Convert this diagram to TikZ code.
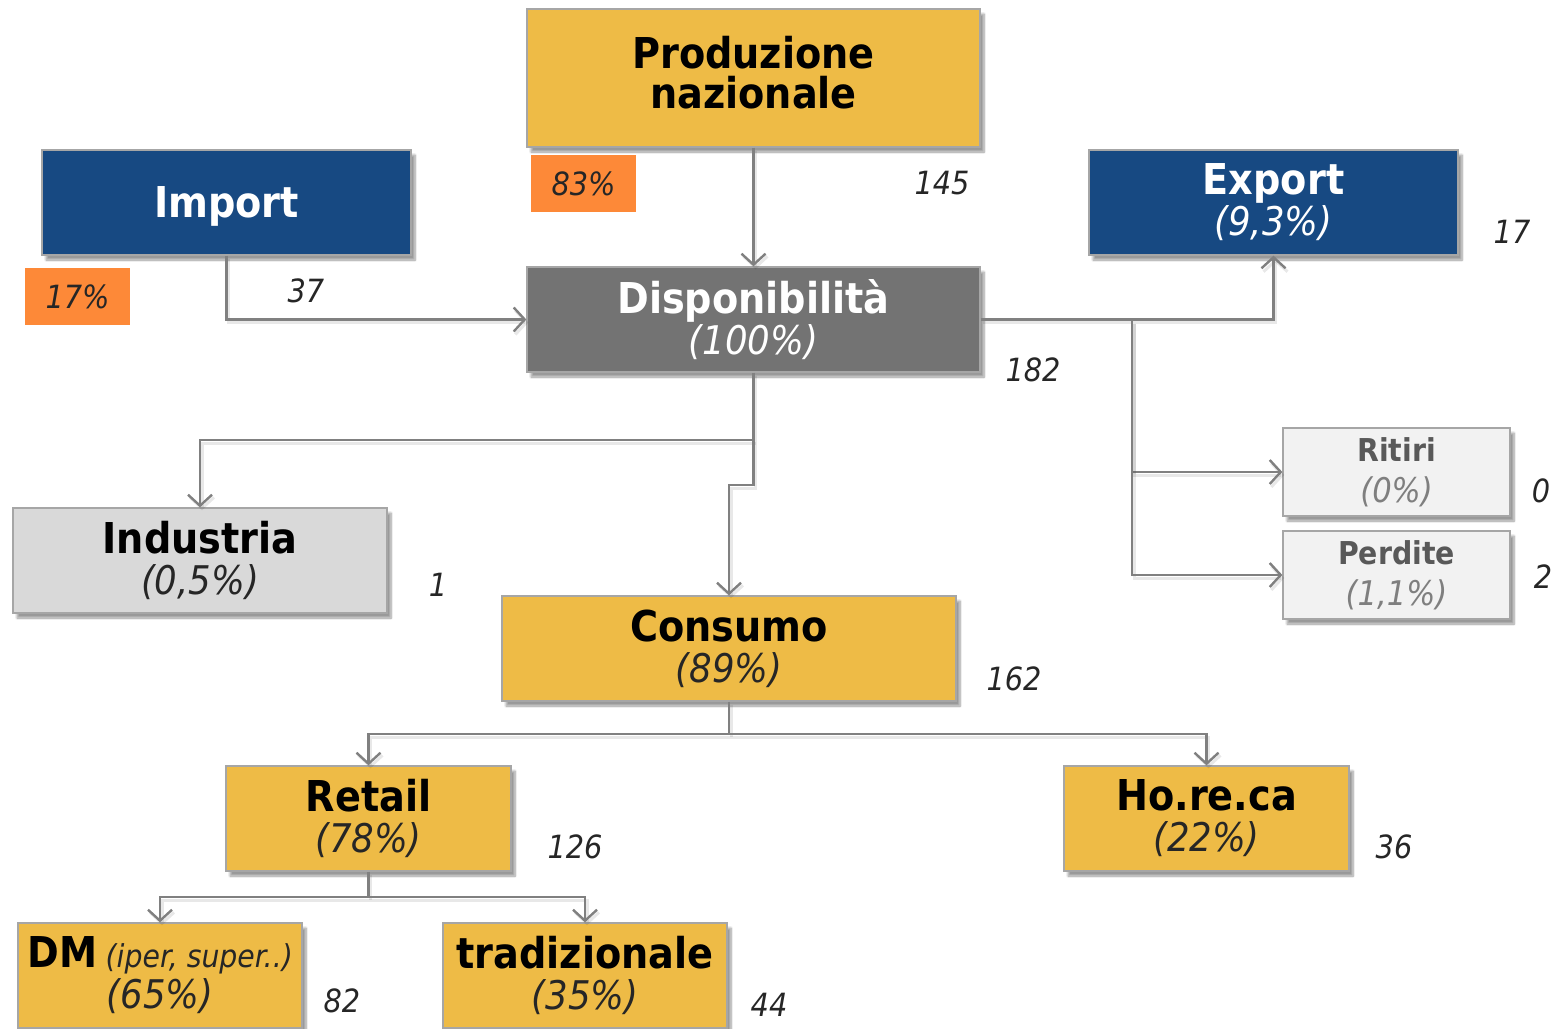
\documentclass[tikz,border=0pt]{standalone}
\usepackage{fontspec}
\setmainfont{DejaVu Sans Condensed}[BoldFont={DejaVu Sans Condensed Bold},ItalicFont={DejaVu Sans Condensed Oblique},BoldItalicFont={DejaVu Sans Condensed Bold Oblique}]
\usetikzlibrary{arrows.meta,shadows.blur}

\definecolor{gold}{RGB}{238,187,70}
\definecolor{navy}{RGB}{23,73,130}
\definecolor{slate}{RGB}{115,115,115}
\definecolor{pale}{RGB}{217,217,217}
\definecolor{paler}{RGB}{242,242,242}
\definecolor{tang}{RGB}{253,137,56}
\definecolor{edge}{RGB}{166,166,166}
\definecolor{wire}{RGB}{128,128,128}
\definecolor{ink}{RGB}{38,38,38}
\definecolor{dim}{RGB}{89,89,89}
\definecolor{dimmer}{RGB}{127,127,127}

% title and percentage lines inside the boxes
\newcommand\ttl[1]{{\fontsize{42.5}{41}\selectfont\bfseries #1}}
\newcommand\pct[1]{{\fontsize{39.5}{41}\selectfont\itshape #1}}
\newcommand\sttl[1]{{\fontsize{31.5}{41}\selectfont\bfseries #1}}
\newcommand\spct[1]{{\fontsize{34}{41}\selectfont\itshape #1}}

\tikzset{
  box/.style={draw=edge, line width=1.3pt, inner sep=0pt, align=center,
    font=\fontsize{30}{41}\selectfont,
    blur shadow={shadow xshift=4pt, shadow yshift=-5pt, shadow blur steps=8}},
  goldbox/.style={box, fill=gold, text=black},
  bluebox/.style={box, fill=navy, text=white},
  darkbox/.style={box, fill=slate, text=white},
  lightbox/.style={box, fill=pale, text=black},
  ghostbox/.style={box, fill=paler, text=dim},
  tagbox/.style={fill=tang, minimum width=105pt, minimum height=57pt, inner sep=0pt,
    font=\fontsize{32}{36}\selectfont\itshape, text=ink},
  num/.style={font=\fontsize{32}{36}\selectfont\itshape, text=ink, inner sep=0pt},
  wire/.style={draw=wire, line width=2.4pt,
    preaction={draw=black, draw opacity=0.09, line width=3pt, transform canvas={shift={(2pt,-3pt)}}}},
  flow/.style={wire, -{Straight Barb[length=11pt, width=24pt]}}
}
\lineskiplimit=-60pt

\begin{document}
\begin{tikzpicture}[x=1pt, y=-1pt]
\useasboundingbox (0,0) rectangle (1555,1028);
\clip (0,0) rectangle (1555,1028);

% boxes
\node[goldbox, minimum width=453pt, minimum height=138pt, text depth=12pt] (prod) at (753.5,78)
  {\ttl{Produzione}\\[-1pt]\ttl{nazionale}};
\node[bluebox, minimum width=369pt, minimum height=105pt, text depth=0pt] (imp) at (226.5,202.5)
  {\ttl{Import}};
\node[darkbox, minimum width=453pt, minimum height=105pt] (disp) at (753.5,319.5)
  {\ttl{Disponibilità}\\\pct{(100\%)}};
\node[bluebox, minimum width=369pt, minimum height=105pt] (exp) at (1273.5,202.5)
  {\ttl{Export}\\\pct{(9,3\%)}};
\node[ghostbox, minimum width=227pt, minimum height=88pt] (rit) at (1396.5,472)
  {\sttl{Ritiri}\\\textcolor{dimmer}{\spct{(0\%)}}};
\node[ghostbox, minimum width=227pt, minimum height=88pt] (per) at (1396.5,575)
  {\sttl{Perdite}\\\textcolor{dimmer}{\spct{(1,1\%)}}};
\node[lightbox, minimum width=374pt, minimum height=105pt] (ind) at (200,560.5)
  {\ttl{Industria}\\\textcolor{ink}{\pct{(0,5\%)}}};
\node[goldbox, minimum width=454pt, minimum height=105pt] (cons) at (729,648.5)
  {\ttl{Consumo}\\\textcolor{ink}{\pct{(89\%)}}};
\node[goldbox, minimum width=285pt, minimum height=105pt] (ret) at (368.5,818.5)
  {\ttl{Retail}\\\textcolor{ink}{\pct{(78\%)}}};
\node[goldbox, minimum width=285pt, minimum height=105pt] (hor) at (1206.5,818.5)
  {\ttl{Ho.re.ca}\\\textcolor{ink}{\pct{(22\%)}}};
\node[goldbox, minimum width=284pt, minimum height=105pt] (dm) at (160,975.5)
  {\ttl{DM} \textcolor{ink}{{\fontsize{31.5}{41}\selectfont\itshape (iper, super..)}}\\\textcolor{ink}{\pct{(65\%)}}};
\node[goldbox, minimum width=284pt, minimum height=105pt] (trad) at (585,975.5)
  {\ttl{tradizionale}\\\textcolor{ink}{\pct{(35\%)}}};

% share tags
\node[tagbox] (t83) at (583.5,183.5) {83\%};
\node[tagbox] (t17) at (77.5,296.5) {17\%};

% quantities
\node[num] (q145) at (942,183) {145};
\node[num] (q37)  at (306,291) {37};
\node[num] (q182) at (1033,370) {182};
\node[num] (q17)  at (1512,232) {17};
\node[num] (q0)   at (1541,491) {0};
\node[num] (q2)   at (1543,577) {2};
\node[num] (q1)   at (438,585) {1};
\node[num] (q162) at (1014,679) {162};
\node[num] (q126) at (575,847) {126};
\node[num] (q36)  at (1394,847) {36};
\node[num] (q82)  at (342,1001) {82};
\node[num] (q44)  at (769,1005) {44};

% branch points
\coordinate (jx) at (1132,320.5);
\coordinate (jd) at (753.5,440);
\coordinate (jk) at (753.5,485);
\coordinate (jc) at (729,734);
\coordinate (jr) at (368.5,897);

% flows
\draw[flow] (prod.south) -- (disp.north);
\draw[flow] (imp.south) |- (disp.west);
\draw[flow] (disp.east) -| (exp.south);
\draw[flow] (jx) |- (rit.west);
\draw[flow] (jx) |- (per.west);
\draw[wire] (disp.south) -- (jd);
\draw[flow] (jd) -| (ind.north);
\draw[flow] (jd) -- (jk) -| (cons.north);
\draw[wire] (cons.south) -- (jc);
\draw[flow] (jc) -| (ret.north);
\draw[flow] (jc) -| (hor.north);
\draw[wire] (ret.south) -- (jr);
\draw[flow] (jr) -| (dm.north);
\draw[flow] (jr) -| (trad.north);
\end{tikzpicture}
\end{document}
